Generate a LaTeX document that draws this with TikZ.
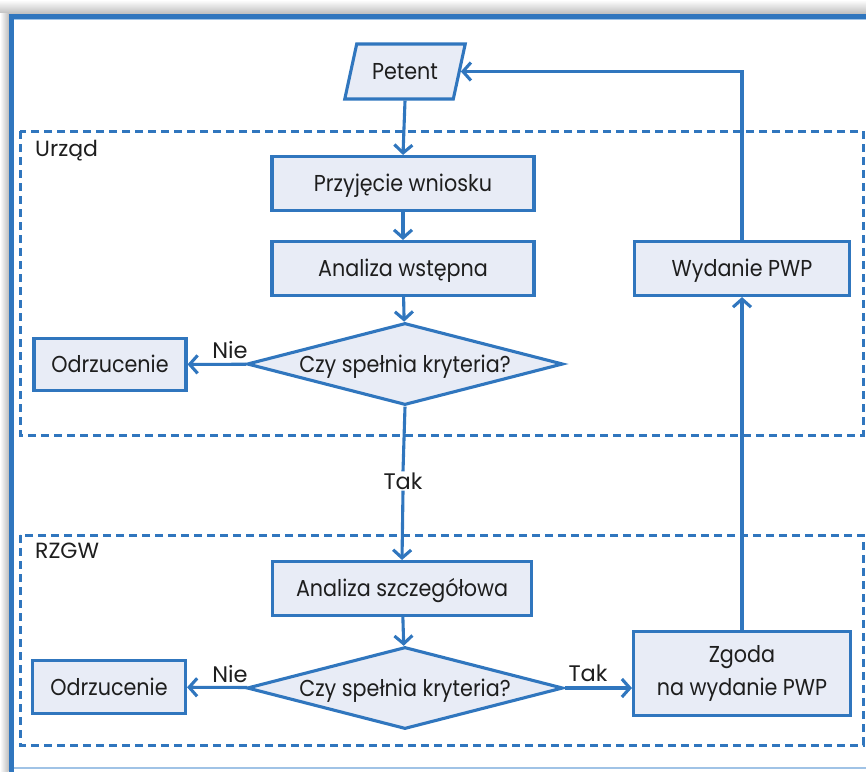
\documentclass[tikz,border=0pt]{standalone}
\usepackage{fontspec}
\setmainfont{Poppins}
\newfontfamily\boxfont{Poppins}[FakeStretch=0.9]
\newfontfamily\lblfont{Poppins}
\usetikzlibrary{shapes.geometric,arrows.meta}
\definecolor{fblue}{RGB}{48,118,190}
\definecolor{lblue}{RGB}{160,195,230}
\definecolor{boxfill}{RGB}{232,236,246}
\definecolor{txt}{RGB}{30,30,30}
\tikzset{
  proc/.style={draw=fblue, fill=boxfill, line width=3.1pt, inner sep=0pt,
    text=txt, font=\boxfont\fontsize{23}{33}\selectfont, align=center},
  oneline/.style={text height=16pt, text depth=0pt},
  dec/.style={proc, oneline, diamond, minimum width=316pt, minimum height=82pt, aspect=3.9},
  io/.style={proc, oneline, trapezium, trapezium left angle=63, trapezium right angle=117,
    trapezium stretches=true, minimum width=121pt, minimum height=55pt},
  flow/.style={draw=fblue, line width=3.1pt, -{Straight Barb[length=8pt,width=18pt,line width=3.1pt]}},
  plain/.style={draw=fblue, line width=3.1pt},
  grp/.style={draw=fblue, line width=3pt, dash pattern=on 8pt off 5pt},
  grplabel/.style={text=txt, font=\lblfont\fontsize{22}{24}\selectfont, anchor=west, inner sep=0pt},
  edgelabel/.style={text=txt, font=\lblfont\fontsize{22.5}{24}\selectfont, inner sep=1pt}
}
\begin{document}
\begin{tikzpicture}[x=1pt,y=-1pt]
\useasboundingbox (0,0) rectangle (866,771);
\clip (0,0) rectangle (866,771);
% shadow and frame
\fill[top color=white, bottom color=black!25] (0,0) rectangle (866,13.5);
\fill[left color=white, right color=black!25] (0,13.5) rectangle (8.5,771);
\draw[lblue, line width=1.5pt] (13.5,771) -- (13.5,19) -- (866,19);
\draw[lblue, line width=1.5pt] (13.5,768) -- (866,768);
\draw[fblue, line width=5pt] (11,790) -- (11,16) -- (880,16);

% groups
\draw[grp] (20,131) rectangle (863,435);
\draw[grp] (20,535) rectangle (863,745);
\node[grplabel] (lurz) at (35,151) {Urząd};
\node[grplabel] (lrzgw) at (35,551) {RZGW};

% nodes
\node[io] (petent) at (405,71.5) {Petent};
\node[proc, oneline, minimum width=262pt, minimum height=54pt] (przyj) at (403,183.5) {Przyjęcie wniosku};
\node[proc, oneline, minimum width=262pt, minimum height=54pt] (anw) at (403,268.5) {Analiza wstępna};
\node[dec] (d1) at (405,364) {Czy spełnia kryteria?};
\node[proc, oneline, minimum width=152pt, minimum height=52pt] (odr1) at (110,364.5) {Odrzucenie};
\node[proc, oneline, minimum width=259pt, minimum height=54pt] (ansz) at (402,588.5) {Analiza szczegółowa};
\node[dec] (d2) at (405,688) {Czy spełnia kryteria?};
\node[proc, oneline, minimum width=153pt, minimum height=53pt] (odr2) at (109,687) {Odrzucenie};
\node[proc, minimum width=217pt, minimum height=84pt] (zgoda) at (742,673.5) {Zgoda\\na wydanie PWP};
\node[proc, oneline, minimum width=215pt, minimum height=54pt] (wyd) at (742,268.5) {Wydanie PWP};

% labels
\node[edgelabel] (tak1) at (403,481) {Tak};
\node[edgelabel] (nie1) at (230,350) {Nie};
\node[edgelabel] (nie2) at (230,674) {Nie};
\node[edgelabel] (tak2) at (588,673) {Tak};

% connectors
\draw[flow] (petent.south) -- (przyj.north);
\draw[flow] (przyj) -- (anw);
\draw[flow] (anw) -- (d1);
\draw[flow] (d1) -- (odr1);
\draw[plain] (d1.south) -- (tak1.north);
\draw[flow] (tak1.south) -- (ansz.north);
\draw[flow] (ansz) -- (d2);
\draw[flow] (d2) -- (odr2);
\draw[flow] (d2.east) -- (d2.east -| zgoda.west);
\draw[flow] (zgoda) -- (wyd);
\draw[flow] (wyd.north) |- (petent.east);
\end{tikzpicture}
\end{document}
